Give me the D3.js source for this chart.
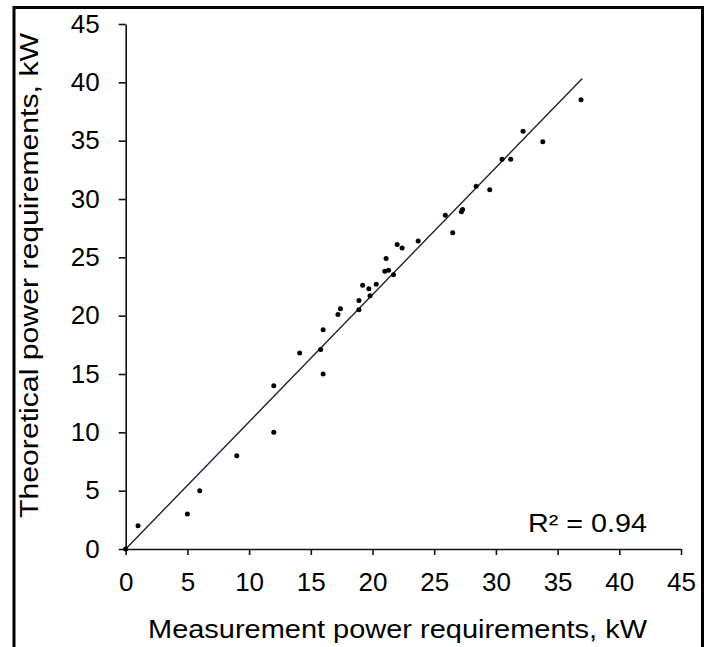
<!DOCTYPE html>
<html>
<head>
<meta charset="utf-8">
<script src="https://cdnjs.cloudflare.com/ajax/libs/d3/7.8.5/d3.min.js"></script>
<style>
  body { margin: 0; background: #fff; }
  text { font-family: "Liberation Sans", Arial, sans-serif; fill: #000; }
</style>
</head>
<body>
<script>
// measured (x) vs theoretical (y) power, kW
var measured    = [0, 1, 5, 6, 9, 12, 12, 14.1, 16, 15.8, 16, 17.2, 17.4, 18.9, 18.9, 19.2, 19.7, 19.8, 20.3, 21, 21.3, 21.1, 21.7, 22, 22.4, 23.7, 25.9, 26.5, 27.2, 27.3, 28.4, 29.5, 30.5, 31.2, 32.2, 33.8, 36.9];
var theoretical = [0, 2, 3, 5, 8, 10, 14, 16.8, 15, 17.1, 18.8, 20.1, 20.6, 20.5, 21.3, 22.6, 22.3, 21.7, 22.7, 23.8, 23.9, 24.9, 23.5, 26.1, 25.8, 26.4, 28.6, 27.1, 28.9, 29.1, 31.1, 30.8, 33.4, 33.4, 35.8, 34.9, 38.5];
var ticks = [0, 5, 10, 15, 20, 25, 30, 35, 40, 45];
var trendSlope = 1.09;
var trendRange = [0, 37];
var r2Label = "R\u00b2 = 0.94";

var w = 711, h = 647;
var margin = {left: 125.7, right: 30, top: 24, bottom: 98};

var svg = d3.select("body").append("svg")
  .attr("width", w)
  .attr("height", h);

// outer frame (bottom edge is cut off in the original)
svg.append("rect")
  .attr("x", 14).attr("y", 7.5)
  .attr("width", 688.5).attr("height", 660)
  .attr("fill", "none")
  .attr("stroke", "#000")
  .attr("stroke-width", 3);

var x = d3.scaleLinear().domain([0, 45]).range([margin.left, 681]);
var y = d3.scaleLinear().domain([0, 45]).range([549, margin.top]);

var xAxis = svg.append("g")
  .attr("transform", "translate(0,549)")
  .call(d3.axisBottom(x).tickValues(ticks).tickSize(6).tickSizeOuter(0));
xAxis.selectAll("text").attr("font-size", 26).attr("dy", "0.71em").attr("y", 24);

var yAxis = svg.append("g")
  .attr("transform", "translate(" + margin.left + ",0)")
  .call(d3.axisLeft(y).tickValues(ticks).tickSize(7).tickSizeOuter(0));
yAxis.selectAll("text").attr("font-size", 26).attr("x", -26);

svg.selectAll(".domain, .tick line")
  .attr("stroke", "#111")
  .attr("stroke-width", 1.6);
svg.selectAll(".tick text").style("font-family", "'Liberation Sans', Arial, sans-serif").attr("fill", "#000");

// trend line through origin
svg.append("line")
  .attr("x1", x(trendRange[0])).attr("y1", y(trendRange[0] * trendSlope))
  .attr("x2", x(trendRange[1])).attr("y2", y(trendRange[1] * trendSlope))
  .attr("stroke", "#1c2433")
  .attr("stroke-width", 1.4);

var points = measured.map(function(m, i){ return {m: m, t: theoretical[i]}; });
svg.selectAll("circle.pt")
  .data(points)
  .enter()
  .append("circle")
  .attr("class", "pt")
  .attr("cx", function(d){ return x(d.m); })
  .attr("cy", function(d){ return y(d.t); })
  .attr("r", 2.5)
  .attr("fill", "#000");

svg.append("text")
  .attr("x", 528).attr("y", 531.5)
  .attr("font-size", 25)
  .attr("textLength", 119)
  .attr("lengthAdjust", "spacingAndGlyphs")
  .text(r2Label);

svg.append("text")
  .attr("x", 148).attr("y", 638)
  .attr("font-size", 25)
  .attr("textLength", 499)
  .attr("lengthAdjust", "spacingAndGlyphs")
  .text("Measurement power requirements, kW");

svg.append("text")
  .attr("transform", "translate(38,518) rotate(-90)")
  .attr("font-size", 26)
  .attr("textLength", 485)
  .attr("lengthAdjust", "spacingAndGlyphs")
  .text("Theoretical power requirements, kW");
</script>
</body>
</html>
